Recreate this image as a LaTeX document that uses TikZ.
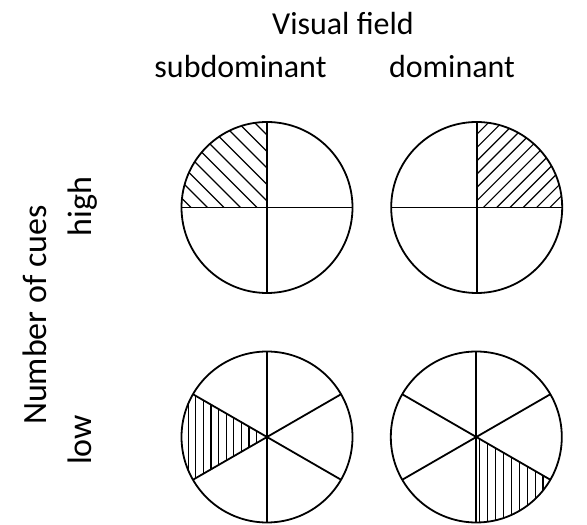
\documentclass[tikz,border=0pt]{standalone}
\usepackage{fontspec}
\setmainfont{Carlito}
\usetikzlibrary{calc}
\begin{document}
\begin{tikzpicture}[x=1pt,y=1pt,
  rim/.style={line width=1.8pt},
  hatchline/.style={line width=1.2pt},
  lbl/.style={font=\fontsize{32}{38}\selectfont, inner sep=0pt, anchor=base},
  sidelbl/.style={lbl, font=\fontsize{34}{40}\selectfont, rotate=90}]
\useasboundingbox (0,0) rectangle (587,525);
\def\R{85.5}
% circle centres
\coordinate (TL) at (267,317.5);
\coordinate (TR) at (476.7,317.5);
\coordinate (BL) at (267,88);
\coordinate (BR) at (476.3,88);

% hatched sectors
\begin{scope}
  \clip (TL) -- ++(180:\R) arc (180:90:\R) -- cycle;
  \foreach \k in {-8,...,10}
    \draw[hatchline] ($(TL)+(-10-\k*16.5,0)+(-150,150)$) -- ++(300,-300);
\end{scope}
\begin{scope}
  \clip (TR) -- ++(0:\R) arc (0:90:\R) -- cycle;
  \foreach \k in {-9,...,14}
    \draw[hatchline] ($(TR)+(6.7+\k*13.3,0)+(-150,-150)$) -- ++(300,300);
\end{scope}
\begin{scope}
  \clip (BL) -- ++(150:\R) arc (150:210:\R) -- cycle;
  \foreach \k in {0,...,12}
    \draw[hatchline] ($(BL)+(-10.5-\k*7.6,-100)$) -- ++(0,200);
\end{scope}
\begin{scope}
  \clip (BR) -- ++(-90:\R) arc (-90:-30:\R) -- cycle;
  \foreach \k in {0,...,12}
    \draw[hatchline] ($(BR)+(3.5+\k*7.9,-100)$) -- ++(0,200);
\end{scope}

% four-quadrant circles
\foreach \c in {TL,TR}{
  \draw[rim] (\c) circle (\R);
  \draw[rim] ($(\c)+(-\R,0)$) -- ($(\c)+(\R,0)$);
  \draw[rim] ($(\c)+(0,-\R)$) -- ($(\c)+(0,\R)$);
}
% six-sector circles
\foreach \c in {BL,BR}{
  \draw[rim] (\c) circle (\R);
  \draw[rim] ($(\c)+(90:\R)$) -- ($(\c)+(270:\R)$);
  \draw[rim] ($(\c)+(30:\R)$) -- ($(\c)+(210:\R)$);
  \draw[rim] ($(\c)+(150:\R)$) -- ($(\c)+(330:\R)$);
}

% labels
\node[lbl] (vf) at (343,490) {Visual field};
\node[lbl] (sub) at (240.5,447) {subdominant};
\node[lbl] (dom) at (452,447) {dominant};
\node[sidelbl] (noc) at (46.5,210) {Number of cues};
\node[sidelbl] (hi) at (91.7,318.3) {high};
\node[sidelbl] (lo) at (91.7,85) {low};
\end{tikzpicture}
\end{document}
